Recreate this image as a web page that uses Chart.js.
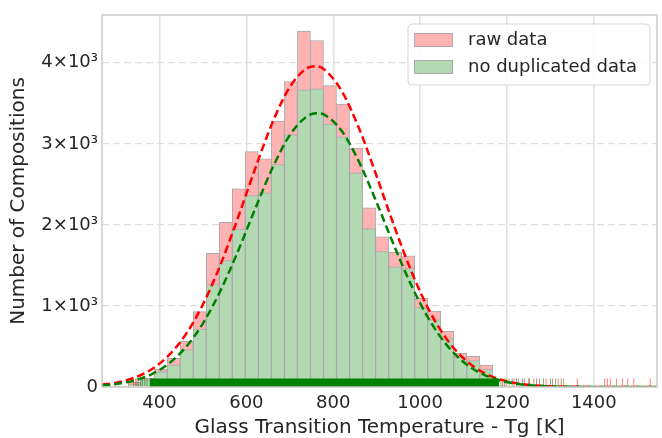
<!DOCTYPE html>
<html>
<head>
<meta charset="utf-8">
<script src="https://cdn.jsdelivr.net/npm/chart.js@4.4.1/dist/chart.umd.min.js"></script>
<style>
  body { margin: 0; background: #fff; }
  #wrap { width: 662px; height: 438px; }
</style>
</head>
<body>
<div id="wrap"><canvas id="tgChart"></canvas></div>
<script>
// --- histogram: centre of each 30 K bin ---
const binCenters = [282.5, 312.5, 342.5, 372.5, 402.5, 432.5, 462.5, 492.5, 522.5, 552.5,
  582.5, 612.5, 642.5, 672.5, 702.5, 732.5, 762.5, 792.5, 822.5, 852.5,
  882.5, 912.5, 942.5, 972.5, 1002.5, 1032.5, 1062.5, 1092.5, 1122.5, 1152.5,
  1182.5, 1212.5, 1242.5, 1272.5, 1302.5, 1332.5, 1362.5, 1392.5, 1422.5, 1452.5,
  1482.5, 1512.5];
const rawCounts = [3, 8, 58, 107, 222, 354, 564, 930, 1650, 2033,
  2444, 2905, 2815, 3280, 3770, 4391, 4275, 3720, 3490, 2947,
  2212, 1852, 1662, 1617, 1095, 936, 688, 416, 379, 272,
  14, 8, 6, 5, 4, 3, 2, 1, 2, 3,
  2, 1];
const uniqueCounts = [2, 5, 37, 90, 189, 275, 461, 716, 1263, 1559,
  1950, 2362, 2395, 2745, 3111, 3667, 3679, 3243, 3088, 2642,
  1955, 1670, 1483, 1460, 980, 830, 593, 367, 325, 214,
  10, 5, 4, 3, 2, 1, 1, 0, 0, 0,
  0, 0];

// --- fitted normal curves ---
const curveX = [268, 300, 340, 380, 420, 460, 500, 540, 580, 620,
  660, 700, 740, 760, 780, 820, 860, 900, 940, 980,
  1020, 1060, 1100, 1140, 1180, 1220, 1260, 1300, 1350, 1400,
  1450, 1545];
const rawCurve = [28, 54, 111, 213, 384, 646, 1019, 1504, 2080, 2691,
  3262, 3702, 3935, 3958, 3915, 3648, 3183, 2600, 1989, 1425,
  955, 600, 353, 194, 100, 48, 22, 9, 3, 1,
  0, 0];
const uniqueCurve = [19, 37, 78, 153, 283, 488, 786, 1184, 1668, 2196,
  2702, 3108, 3341, 3378, 3358, 3155, 2771, 2275, 1746, 1252,
  840, 526, 308, 169, 86, 41, 19, 8, 2, 1,
  0, 0];

// --- rug marks along the bottom ---
const rugDense = [377, 1182]; // stretch where the ticks merge into a solid band
const rawRug = [340, 345, 351, 1190, 1198, 1216, 1226, 1240, 1252, 1262, 1275, 1290,
  1305, 1318, 1330, 1362, 1425, 1431, 1438, 1452, 1466, 1478, 1492, 1530];
const uniqueRug = [348, 356, 361, 366, 371, 1186, 1194, 1205, 1212, 1222, 1236,
  1250, 1268, 1284, 1300, 1312, 1325];

const xTicks = [400, 600, 800, 1000, 1200, 1400];
const yTicks = [0, 1000, 2000, 3000, 4000];
const yTickLabels = ['0', '1×10³', '2×10³', '3×10³', '4×10³'];
const legendLabels = ['raw data', 'no duplicated data'];

const FONT = 'DejaVu Sans';
const TEXT = '#262626';
const RED_FILL = '#ffb3b3';
const GREEN_FILL = '#b3d9b3';
const EDGE = '#a9a9a9';
const RUG_LEVEL = 59;
const RUG_TOP = 104;

// frame round the plot area (all four spines)
const framePlugin = {
  id: 'frame',
  afterDatasetsDraw(chart) {
    const { ctx, chartArea: a } = chart;
    ctx.save();
    ctx.strokeStyle = '#cccccc';
    ctx.lineWidth = 1.5;
    ctx.strokeRect(a.left, a.top, a.right - a.left, a.bottom - a.top);
    ctx.restore();
  }
};

// boxed legend in the top right corner
const legendPlugin = {
  id: 'boxLegend',
  afterDraw(chart) {
    const { ctx, chartArea: a } = chart;
    const items = legendLabels.map(l => chart.data.datasets.find(d => d.label === l));
    const bx = a.right - 249, by = a.top + 9, bw = 242, bh = 61;
    ctx.save();
    ctx.beginPath();
    ctx.roundRect(bx, by, bw, bh, 4);
    ctx.fillStyle = 'rgba(255,255,255,0.85)';
    ctx.fill();
    ctx.strokeStyle = '#d5d5d5';
    ctx.lineWidth = 1;
    ctx.stroke();
    ctx.font = '18px "' + FONT + '"';
    ctx.textBaseline = 'middle';
    items.forEach((d, i) => {
      const cy = by + 16 + i * 27;
      ctx.fillStyle = d.backgroundColor;
      ctx.fillRect(bx + 6, cy - 7, 39, 14);
      ctx.strokeStyle = EDGE;
      ctx.strokeRect(bx + 6.5, cy - 6.5, 38, 13);
      ctx.fillStyle = TEXT;
      ctx.fillText(d.label, bx + 60, cy);
    });
    ctx.restore();
  }
};

const ctx = document.getElementById('tgChart').getContext('2d');

new Chart(ctx, {
  type: 'bar',
  data: {
    datasets: [
      {
        type: 'line',
        label: 'fit no duplicated',
        data: curveX.map((x, i) => ({ x, y: uniqueCurve[i] })),
        borderColor: '#008000',
        borderWidth: 2.5,
        borderDash: [8, 4],
        pointRadius: 0,
        fill: false,
        cubicInterpolationMode: 'monotone',
        order: 0
      },
      {
        type: 'line',
        label: 'fit raw',
        data: curveX.map((x, i) => ({ x, y: rawCurve[i] })),
        borderColor: '#ff0000',
        borderWidth: 2.5,
        borderDash: [8, 4],
        pointRadius: 0,
        fill: false,
        cubicInterpolationMode: 'monotone',
        order: 1
      },
      {
        type: 'scatter',
        label: 'rug no duplicated',
        data: uniqueRug.map(x => ({ x, y: RUG_LEVEL })),
        pointStyle: 'line',
        rotation: 90,
        pointRadius: 3.8,
        borderWidth: 1,
        borderColor: 'rgba(0,128,0,0.55)',
        order: 2
      },
      {
        type: 'line',
        label: 'rug band',
        data: rugDense.map(x => ({ x, y: RUG_TOP })),
        borderWidth: 0,
        pointRadius: 0,
        backgroundColor: '#008000',
        fill: 'origin',
        order: 3
      },
      {
        type: 'scatter',
        label: 'rug raw',
        data: rawRug.map(x => ({ x, y: RUG_LEVEL })),
        pointStyle: 'line',
        rotation: 90,
        pointRadius: 3.8,
        borderWidth: 1,
        borderColor: 'rgba(255,0,0,0.5)',
        order: 4
      },
      {
        type: 'bar',
        label: legendLabels[1],
        data: binCenters.map((x, i) => ({ x, y: uniqueCounts[i] })),
        backgroundColor: GREEN_FILL,
        borderColor: EDGE,
        borderWidth: 1,
        barPercentage: 1,
        categoryPercentage: 1,
        grouped: false,
        order: 5
      },
      {
        type: 'bar',
        label: legendLabels[0],
        data: binCenters.map((x, i) => ({ x, y: rawCounts[i] })),
        backgroundColor: RED_FILL,
        borderColor: EDGE,
        borderWidth: 1,
        barPercentage: 1,
        categoryPercentage: 1,
        grouped: false,
        order: 6
      }
    ]
  },
  options: {
    responsive: true,
    maintainAspectRatio: false,
    animation: false,
    devicePixelRatio: 1,
    events: [],
    layout: { padding: { left: 0, right: 2, top: 15, bottom: 0 } },
    plugins: {
      legend: { display: false },
      tooltip: { enabled: false }
    },
    scales: {
      x: {
        type: 'linear',
        min: 267.5,
        max: 1545.5,
        offset: false,
        afterBuildTicks: s => { s.ticks = xTicks.map(v => ({ value: v })); },
        afterFit: s => { s.height = 51; },
        grid: { color: '#e0e0e0', lineWidth: 1.5, drawTicks: false, offset: false },
        border: { display: false },
        ticks: {
          padding: 6,
          autoSkip: false,
          maxRotation: 0,
          color: TEXT,
          font: { family: FONT, size: 18 },
          callback: v => String(v)
        },
        title: {
          display: true,
          text: 'Glass Transition Temperature - Tg [K]',
          color: TEXT,
          font: { family: FONT, size: 20 },
          padding: { top: 0, bottom: -2 }
        }
      },
      y: {
        min: 0,
        max: 4590,
        afterBuildTicks: s => { s.ticks = yTicks.map(v => ({ value: v })); },
        afterFit: s => { s.width = 102; },
        grid: { color: '#dedede', lineWidth: 1.2, drawTicks: false },
        border: { display: false, dash: [7, 4] },
        ticks: {
          padding: 4,
          color: TEXT,
          font: { family: FONT, size: 18 },
          callback: v => yTickLabels[yTicks.indexOf(v)]
        },
        title: {
          display: true,
          text: 'Number of Compositions',
          color: TEXT,
          font: { family: FONT, size: 20 },
          padding: { top: 7, bottom: 0 }
        }
      }
    }
  },
  plugins: [framePlugin, legendPlugin]
});
</script>
</body>
</html>
